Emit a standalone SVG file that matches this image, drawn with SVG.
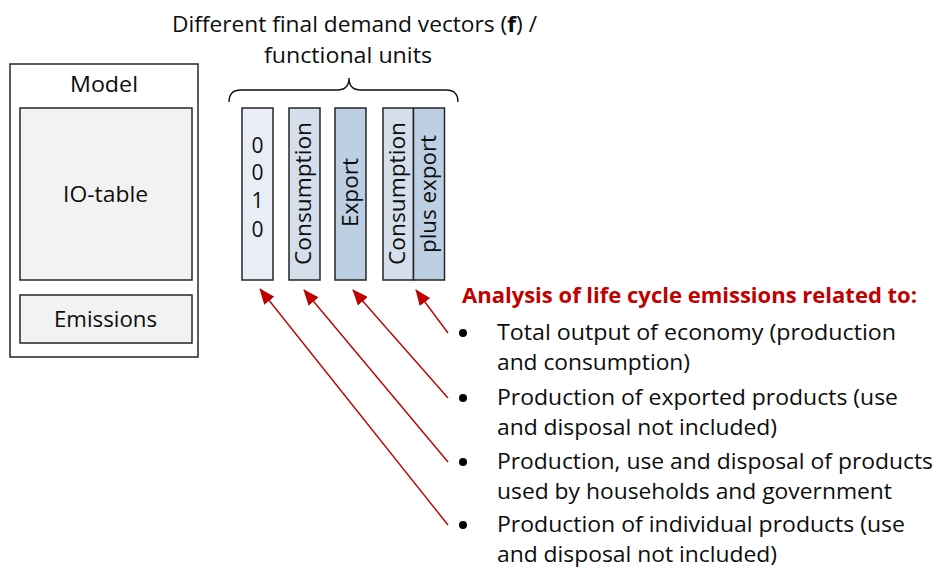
<svg xmlns="http://www.w3.org/2000/svg" width="936" height="567" viewBox="0 0 936 567">
  <style>
    .t { font-family: "Open Sans", "Liberation Sans", sans-serif; font-size: 21px; fill: #0d0d0d; }
    .box { stroke: #262626; stroke-width: 1.5; }
    .vec { stroke: #262626; stroke-width: 1.5; }
    .arrow { stroke: #C00000; stroke-width: 1.4; fill: none; marker-end: url(#head); }
    .bullet { fill: #000; }
  </style>
  <defs>
    <marker id="head" markerWidth="16" markerHeight="13" refX="15" refY="6.5" orient="auto" markerUnits="userSpaceOnUse">
      <path d="M0,0 L16,6.5 L0,13 Z" fill="#C00000"/>
    </marker>
  </defs>
  <rect width="936" height="567" fill="#fff"/>

  <!-- model block -->
  <g id="model">
    <rect class="box" x="10" y="64" width="188" height="293" fill="#fff"/>
    <text class="t" x="104" y="92" text-anchor="middle" textLength="68" lengthAdjust="spacingAndGlyphs">Model</text>
  </g>
  <g id="io-table">
    <rect class="box" x="20" y="108" width="172" height="172" fill="#F2F2F2"/>
    <text class="t" x="105.5" y="202" text-anchor="middle" textLength="85" lengthAdjust="spacingAndGlyphs">IO-table</text>
  </g>
  <g id="emissions">
    <rect class="box" x="20" y="295" width="172" height="48" fill="#F2F2F2"/>
    <text class="t" x="105.5" y="327" text-anchor="middle" textLength="103" lengthAdjust="spacingAndGlyphs">Emissions</text>
  </g>

  <!-- heading above the vectors -->
  <g id="heading">
    <text class="t" x="172" y="32" textLength="365" lengthAdjust="spacingAndGlyphs">Different final demand vectors (<tspan font-weight="bold">f</tspan>) /</text>
    <text class="t" x="264" y="63" textLength="168" lengthAdjust="spacingAndGlyphs">functional units</text>
    <path d="M229,102 Q229,90 241,90 L337,90 Q349,90 349,78 Q349,90 361,90 L446,90 Q458,90 458,102" fill="none" stroke="#111" stroke-width="1.4"/>
  </g>

  <!-- final demand vectors -->
  <g id="vec-unit">
    <rect class="vec" x="242" y="108" width="31" height="172" fill="#E9EEF6"/>
    <g class="t" text-anchor="middle">
      <text x="257.5" y="153">0</text>
      <text x="257.5" y="180">0</text>
      <text x="257.5" y="208">1</text>
      <text x="257.5" y="237">0</text>
    </g>
  </g>
  <g id="vec-consumption">
    <rect class="vec" x="289" y="108" width="31" height="172" fill="#D5DFEB"/>
    <text class="t" transform="translate(310.5,193.5) rotate(-90)" text-anchor="middle" textLength="143" lengthAdjust="spacingAndGlyphs">Consumption</text>
  </g>
  <g id="vec-export">
    <rect class="vec" x="335" y="108" width="31" height="172" fill="#BDD0E3"/>
    <text class="t" transform="translate(357.5,192.5) rotate(-90)" text-anchor="middle" textLength="69" lengthAdjust="spacingAndGlyphs">Export</text>
  </g>
  <g id="vec-consumption-plus-export">
    <rect class="vec" x="383" y="108" width="30.5" height="172" fill="#D5DFEB"/>
    <rect class="vec" x="413.5" y="108" width="31" height="172" fill="#BDD0E3"/>
    <text class="t" transform="translate(404.5,193.5) rotate(-90)" text-anchor="middle" textLength="143" lengthAdjust="spacingAndGlyphs">Consumption</text>
    <text class="t" transform="translate(435.5,194) rotate(-90)" text-anchor="middle" textLength="118" lengthAdjust="spacingAndGlyphs">plus export</text>
  </g>

  <!-- analysis list -->
  <g id="analysis">
    <text x="462" y="303" font-family="'Open Sans', 'Liberation Sans', sans-serif" font-size="20.5" font-weight="bold" fill="#C00000" textLength="455" lengthAdjust="spacingAndGlyphs">Analysis of life cycle emissions related to:</text>
  </g>
  <g id="item-total">
    <circle class="bullet" cx="463" cy="333" r="4"/>
    <text class="t" x="497" y="340" textLength="399" lengthAdjust="spacingAndGlyphs">Total output of economy (production</text>
    <text class="t" x="497" y="370" textLength="193" lengthAdjust="spacingAndGlyphs">and consumption)</text>
  </g>
  <g id="item-export">
    <circle class="bullet" cx="463" cy="398" r="4"/>
    <text class="t" x="497" y="405" textLength="401" lengthAdjust="spacingAndGlyphs">Production of exported products (use</text>
    <text class="t" x="497" y="435" textLength="280" lengthAdjust="spacingAndGlyphs">and disposal not included)</text>
  </g>
  <g id="item-households">
    <circle class="bullet" cx="463" cy="462" r="4"/>
    <text class="t" x="497" y="469" textLength="436" lengthAdjust="spacingAndGlyphs">Production, use and disposal of products</text>
    <text class="t" x="497" y="499" textLength="395" lengthAdjust="spacingAndGlyphs">used by households and government</text>
  </g>
  <g id="item-individual">
    <circle class="bullet" cx="463" cy="525" r="4"/>
    <text class="t" x="497" y="532" textLength="408" lengthAdjust="spacingAndGlyphs">Production of individual products (use</text>
    <text class="t" x="497" y="562" textLength="280" lengthAdjust="spacingAndGlyphs">and disposal not included)</text>
  </g>

  <!-- connectors -->
  <g id="connectors">
    <line class="arrow" x1="448" y1="333" x2="416" y2="290"/>
    <line class="arrow" x1="448" y1="398" x2="353" y2="290"/>
    <line class="arrow" x1="448" y1="462" x2="304" y2="290"/>
    <line class="arrow" x1="448" y1="525" x2="260" y2="289"/>
  </g>
</svg>
